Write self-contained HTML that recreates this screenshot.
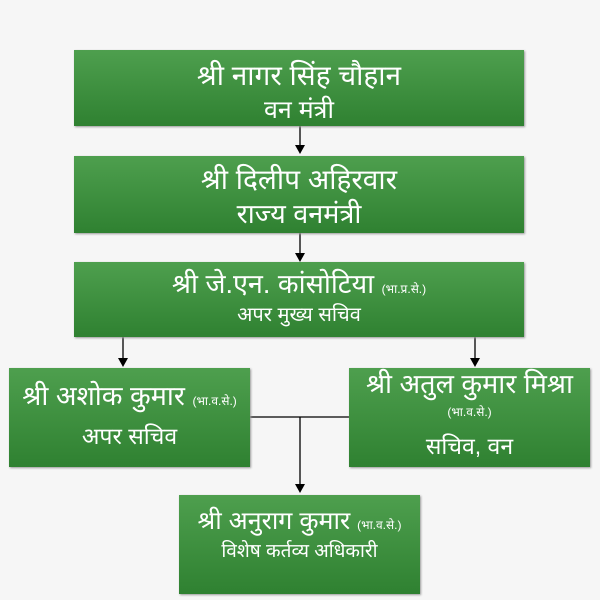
<!DOCTYPE html>
<html><head><meta charset="utf-8"><style>
body{margin:0;width:600px;height:600px;background:#f6f6f6;position:relative;overflow:hidden;font-family:"Liberation Sans",sans-serif;}
.b{position:absolute;background:linear-gradient(#4e9f4e,#2f8131);box-shadow:1px 1px 2px #999;color:#fff;text-align:center;box-sizing:border-box;}
.t{position:absolute;left:0;right:0;white-space:nowrap;line-height:1;}
.s{font-size:12px}
</style></head><body>
<svg width="600" height="600" style="position:absolute;left:0;top:0">
<g stroke="#000" stroke-width="1.3" fill="none">
<line x1="300" y1="126" x2="300" y2="146"/>
<line x1="300" y1="233" x2="300" y2="254"/>
<line x1="123" y1="337" x2="123" y2="360"/>
<line x1="475" y1="337" x2="475" y2="360"/>
<line x1="250" y1="417" x2="349" y2="417"/>
<line x1="300" y1="417" x2="300" y2="485"/>
</g>
<g fill="#000">
<polygon points="295,145 305,145 300,154"/>
<polygon points="295,253 305,253 300,262"/>
<polygon points="118,358 128,358 123,367"/>
<polygon points="470,358 480,358 475,367"/>
<polygon points="295,484 305,484 300,493"/>
</g>
</svg>
<div class="b" style="left:74px;top:50px;width:450px;height:76px">
<div class="t" style="top:12px;font-size:28px">श्री नागर सिंह चौहान</div><div class="t" style="top:48px;font-size:25px">वन मंत्री</div></div>
<div class="b" style="left:74px;top:156px;width:450px;height:77px">
<div class="t" style="top:10px;font-size:28px">श्री दिलीप अहिरवार</div><div class="t" style="top:45px;font-size:27px">राज्य वनमंत्री</div></div>
<div class="b" style="left:74px;top:262px;width:450px;height:75px">
<div class="t" style="top:9px;font-size:27px">श्री जे.एन. कांसोटिया <span class="s">(भा.प्र.से.)</span></div><div class="t" style="top:43px;font-size:20px">अपर मुख्य सचिव</div></div>
<div class="b" style="left:9px;top:368px;width:241px;height:99px">
<div class="t" style="top:15px;font-size:27px">श्री अशोक कुमार <span class="s">(भा.व.से.)</span></div><div class="t" style="top:57px;font-size:23px">अपर सचिव</div></div>
<div class="b" style="left:349px;top:368px;width:241px;height:99px">
<div class="t" style="top:3px;font-size:27px">श्री अतुल कुमार मिश्रा</div><div class="t s" style="top:38px">(भा.व.से.)</div><div class="t" style="top:67px;font-size:23px">सचिव, वन</div></div>
<div class="b" style="left:179px;top:495px;width:241px;height:99px">
<div class="t" style="top:14px;font-size:25px">श्री अनुराग कुमार <span class="s">(भा.व.से.)</span></div><div class="t" style="top:47px;font-size:19px">विशेष कर्तव्य अधिकारी</div></div>
</body></html>
